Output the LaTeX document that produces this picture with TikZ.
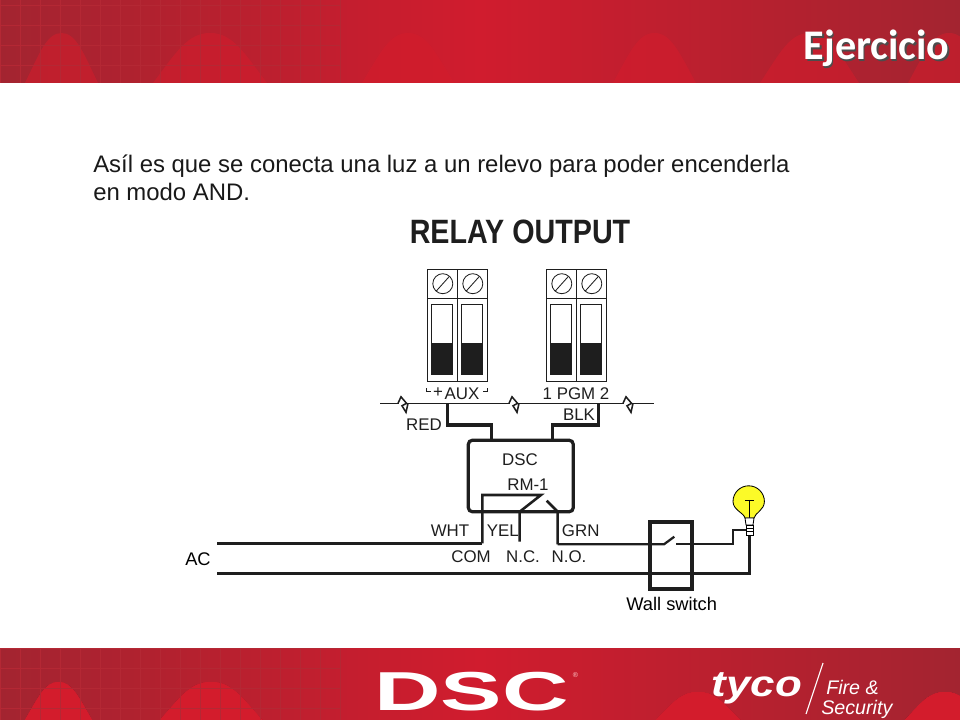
\documentclass[tikz,border=0pt]{standalone}
\usepackage{fontspec}
\setmainfont{Liberation Sans}
\newfontfamily\titlefont{Carlito}
\definecolor{banddark}{RGB}{163,36,48}
\definecolor{bandmid}{RGB}{208,28,46}
\definecolor{humpred}{RGB}{212,28,44}
\definecolor{gridred}{RGB}{180,40,52}
\definecolor{inkblack}{RGB}{30,30,30}
\definecolor{lampyellow}{RGB}{252,250,40}
\tikzset{
	wire/.style={draw=inkblack, line width=2.3pt},
	thinwire/.style={draw=inkblack, line width=1.8pt},
	termline/.style={draw=inkblack, line width=0.6pt},
	lampline/.style={draw=black, line width=0.6pt},
	label/.style={text=inkblack, font=\fontsize{12}{12}\selectfont, inner sep=0pt},
	bigtext/.style={text=black, font=\fontsize{13}{13}\selectfont, inner sep=0pt},
	bodytext/.style={anchor=base west, text=black!90, font=\fontsize{17}{17}\selectfont, inner sep=0pt},
	titletext/.style={font=\titlefont\bfseries\fontsize{30}{30}\selectfont, inner sep=0pt},
	band/.style={left color=banddark, right color=banddark, middle color=bandmid, draw=none},
	hump/.style={fill=humpred, opacity=0.55, draw=none}
}
\newcommand{\hump}[4]{% left, right, bottom edge, height
	\fill[hump] (#1,#3) .. controls ({#1+0.2*(#2-#1)},{#3-0.6*#4}) and ({#1+0.3*(#2-#1)},{#3-#4}) .. ({#1+0.5*(#2-#1)},{#3-#4}) .. controls ({#1+0.7*(#2-#1)},{#3-#4}) and ({#1+0.8*(#2-#1)},{#3-0.6*#4}) .. (#2,#3) -- cycle;
}
\begin{document}
\begin{tikzpicture}[x=0.025cm, y=-0.025cm]
	\useasboundingbox (0,0) rectangle (960,720);

	% bands
	\fill[band] (0,0) rectangle (960,83);
	\fill[band] (0,648) rectangle (960,720);
	\foreach \l/\r in {25/98, 153/267, 362/454, 613/696, 760/859, 908/990}
		\hump{\l}{\r}{83}{50}
	\foreach \l/\r in {25/92, 160/262}
		\hump{\l}{\r}{720}{38}
	\foreach \l/\r in {656/740, 905/985}
		\hump{\l}{\r}{720}{28}
	\foreach \g in {0,20,...,340}
		\draw[gridred, line width=0.25pt] (\g,0) -- (\g,83) (\g,648) -- (\g,720);
	\foreach \g in {5,25,...,65}
		\draw[gridred, line width=0.25pt] (0,\g) -- (340,\g) (0,643+\g) -- (340,643+\g);

	\node[titletext, text=black!70] at (878,50) {Ejercicio};
	\node (title) [titletext, text=white] at (876.5,48.5) {Ejercicio};

	% footer logos
	\node (dsclogo) [text=white, font=\bfseries\fontsize{39}{39}\selectfont, xscale=1.68, inner sep=0pt] at (471.5,691.5) {DSC};
	\node (regmark) [text=white!80!red, font=\fontsize{5}{5}\selectfont, inner sep=0pt] at (575.5,675) {®};
	\node (tyco) [text=white, font=\bfseries\itshape\fontsize{26}{26}\selectfont, xscale=1.2, inner sep=0pt] at (757,688) {tyco};
	\draw[white, thick] (823,663) -- (806,714);
	\node (fire) [text=white, anchor=west, font=\itshape\fontsize{14}{14}\selectfont, inner sep=0pt] at (826,687) {Fire \&};
	\node (security) [text=white, anchor=west, font=\itshape\fontsize{14}{14}\selectfont, inner sep=0pt] at (821,709) {Security};

	% text
	\node (line1) [bodytext] at (93,173) {Asíl es que se conecta una luz a un relevo para poder encenderla};
	\node (line2) [bodytext] at (93,201) {en modo AND.};
	\node (relay) [text=inkblack, font=\bfseries\fontsize{24}{24}\selectfont, xscale=0.85, inner sep=0pt] at (520,232) {RELAY OUTPUT};

	% terminal blocks
	\foreach \x in {427.3, 546.3} {
		\draw[termline] (\x,269.3) rectangle (\x+60,381);
		\draw[termline] (\x,298.3) -- (\x+60,298.3) (\x+30,269.3) -- (\x+30,381);
		\foreach \d in {0,30} {
			\draw[termline] (\x+\d+15.5,283.7) circle (10);
			\draw[termline] (\x+\d+9,291) -- (\x+\d+22,276.5);
			\draw[termline, line width=0.8pt] (\x+\d+4.5,304.3) rectangle (\x+\d+25.5,374);
			\fill[inkblack] (\x+\d+4.5,343.3) rectangle (\x+\d+25.5,374);
		}
	}
	\node[label] (aux) at (462,394) {AUX};
	\node[label] (plus) at (438,393) {+};
	\draw[termline] (426.7,388.5) -- (426.7,391.7) -- (431,391.7);
	\draw[termline] (483.3,391.7) -- (487.3,391.7) -- (487.3,388.5);
	\node[label] (pgm) at (576,394) {1 PGM 2};

	% bus
	\coordinate (bus1) at (380,403.3);
	\coordinate (bus2) at (654,403.3);
	\draw[termline, line width=1pt] (bus1) -- (bus2);
	\foreach \b in {400,511,625} {
		\fill[white] (\b-1,402) rectangle (\b+7.5,405);
		\draw[termline, line width=1.1pt] (\b-2,403.3) -- (\b+1,396.8) -- (\b+6.5,403.3) -- (\b+2,405.8) -- (\b+6,412.3) -- (\b+8,403.3);
	}

	% module
	\node[draw=inkblack, line width=2.3pt, rounded corners=3pt, minimum width=2.625cm, minimum height=1.79cm, inner sep=0pt] (dsc) at (520.8,476) {};
	\coordinate (redtap) at (447.3,403.3);
	\coordinate (blktap) at (598.7,403.3);
	\coordinate (redbend) at (491.7,425);
	\coordinate (blkbend) at (552.7,425);
	\draw[wire] (redtap) |- (redbend) -- (redbend |- dsc.north);
	\draw[wire] (blktap) |- (blkbend) -- (blkbend |- dsc.north);
	\node[label] (red) at (424,424.5) {RED};
	\node[label] (blk) at (579,414.5) {BLK};
	\node[label] (dsctext) at (520,460) {DSC};
	\node[label] (rm) at (528,485) {RM-1};

	% relay contacts
	\coordinate (acone) at (217,543.3);
	\coordinate (actwo) at (217,573.3);
	\coordinate (com) at (482.3,543.3);
	\coordinate (combend) at (541,495);
	\coordinate (nc) at (519.7,541.7);
	\coordinate (armend) at (519.7,511.7);
	\coordinate (nostart) at (546.7,500.7);
	\coordinate (nobend) at (557.7,511.7);
	\coordinate (no) at (557.7,544.3);
	\draw[wire] (acone) -- (com);
	\draw[thinwire] (com) |- (combend) -- (armend) -- (nc);
	\draw[thinwire] (nostart) -- (nobend) -- (no);

	% wall switch and lamp
	\node[draw=inkblack, line width=3pt, minimum width=1.04cm, minimum height=1.675cm, inner sep=0pt] (wall) at (670.8,555.8) {};
	\coordinate (swleft) at (664,544.3);
	\coordinate (swtip) at (674.3,536.7);
	\coordinate (swright) at (676,544.3);
	\coordinate (lampstep) at (733.3,530);
	\coordinate (lamphot) at (746,530);
	\coordinate (lampbase) at (749.5,535);
	\draw[thinwire, line width=1.6pt] (no) -- (swleft) -- (swtip);
	\draw[thinwire, line width=1.6pt] (swright) -| (lampstep) -- (lamphot);
	\draw[wire] (actwo) -| (lampbase);
	\fill[lampyellow, lampline] (745,518) .. controls (744,513) and (733,510) .. (733,501.5) arc (180:360:15.7) .. controls (764.4,510) and (755,513) .. (754,518) -- cycle;
	\draw[lampline] (749.3,500) -- (749.3,518) (745,500) -- (754,500);
	\fill[white, lampline] (745,518) -- (754,518) -- (753,525) -- (746,525) -- cycle;
	\fill[white, lampline] (746,525) rectangle (753,535);
	\draw[lampline] (746,528) -- (753,528) (746,531) -- (753,531);

	\node[label] (wht) at (450,530.5) {WHT};
	\node[label] (yel) at (502.7,530.5) {YEL};
	\node[label] (grn) at (580.7,530.5) {GRN};
	\node[label] (comtext) at (471,556.5) {COM};
	\node[label] (nctext) at (523,556.5) {N.C.};
	\node[label] (notext) at (569,556.5) {N.O.};
	\node[bigtext] (ac) at (198,559) {AC};
	\node[bigtext] (walltext) at (671.7,604) {Wall switch};
\end{tikzpicture}
\end{document}
